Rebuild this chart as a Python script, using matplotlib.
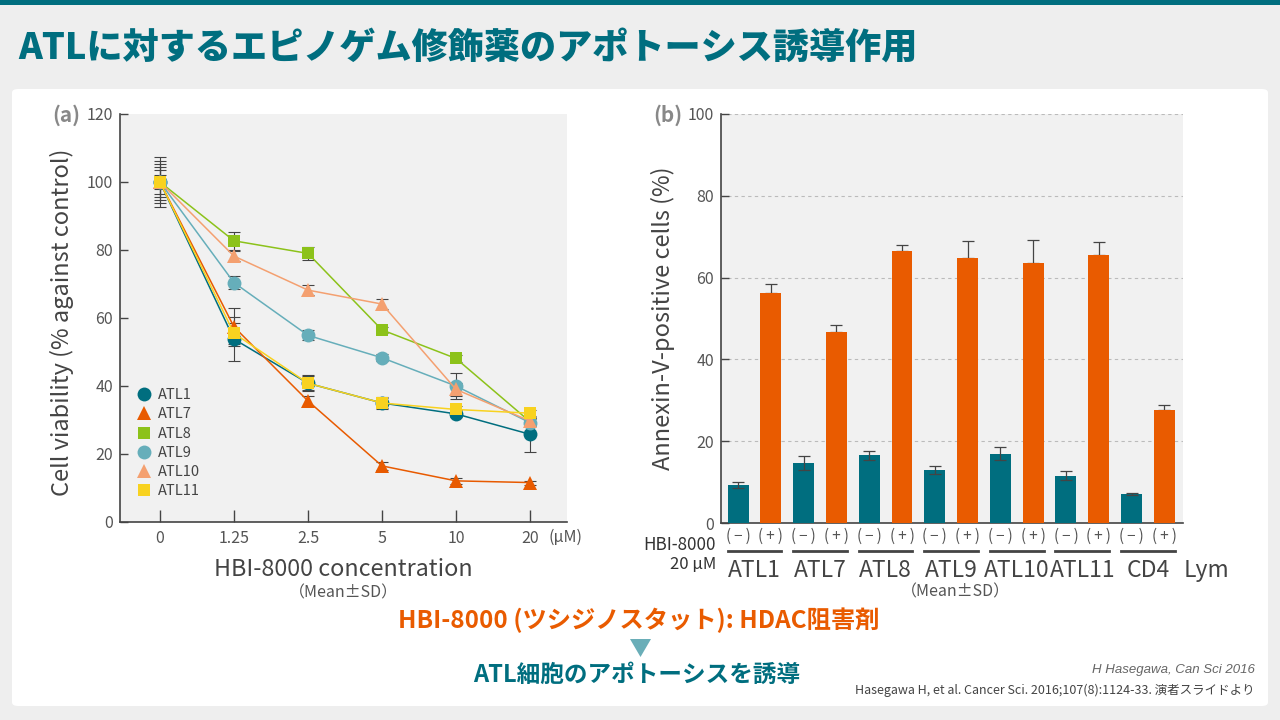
import matplotlib
matplotlib.use("Agg")
import matplotlib.pyplot as plt
import matplotlib.transforms as mtransforms
from matplotlib.patches import FancyBboxPatch, Polygon, Rectangle
from matplotlib.lines import Line2D
import numpy as np

plt.rcParams['font.family'] = ['Noto Sans CJK JP', 'DejaVu Sans']

# (a) 細胞生存率データ
conc_labels = ['0', '1.25', '2.5', '5', '10', '20']
cell_lines = ['ATL1', 'ATL7', 'ATL8', 'ATL9', 'ATL10', 'ATL11']
viab_atl1 = [100, 53.8, 40.8, 35.0, 31.8, 25.8]
viab_atl7 = [100, 57.4, 35.6, 16.5, 12.1, 11.6]
viab_atl8 = [100, 82.7, 79.0, 56.5, 48.1, 29.5]
viab_atl9 = [100, 70.4, 54.9, 48.3, 40.0, 29.2]
viab_atl10 = [100, 78.2, 68.2, 64.1, 39.0, 29.7]
viab_atl11 = [100, 55.5, 40.8, 35.0, 33.1, 32.0]
err_atl1 = [7.4, 6.5, 2.0, 1.5, 1.0, 5.3]
err_atl7 = [4.5, 5.5, 1.5, 1.2, 0.8, 0.6]
err_atl8 = [3.5, 2.7, 2.0, 1.0, 1.0, 1.0]
err_atl9 = [6.2, 2.0, 1.5, 1.0, 3.8, 1.0]
err_atl10 = [5.2, 1.5, 1.5, 1.4, 2.0, 1.0]
err_atl11 = [2.0, 3.0, 2.4, 1.7, 1.0, 1.0]

# (b) Annexin-V陽性細胞データ
groups = ['ATL1', 'ATL7', 'ATL8', 'ATL9', 'ATL10', 'ATL11', 'CD4']
annexin_minus = [9.3, 14.7, 16.6, 13.0, 16.9, 11.5, 7.1]
minus_err = [0.7, 1.8, 1.1, 0.9, 1.6, 1.1, 0.2]
annexin_plus = [56.2, 46.7, 66.5, 64.8, 63.6, 65.5, 27.6]
plus_err = [2.2, 1.7, 1.5, 4.2, 5.6, 3.2, 1.3]

W, H = 1280, 720
TEAL = '#006E7F'
ORANGE = '#E95B00'
GRAY_TXT = '#555555'
AX_BG = '#F1F1F1'


def fx(x):
    return x / W


def fy(y):
    return 1 - y / H


fig = plt.figure(figsize=(12.8, 7.2), dpi=100)
fig.patch.set_facecolor('#EEEEEE')

# 上部の帯と白いパネル(軸より後ろ)
fig.add_artist(Rectangle((0, fy(5)), 1, 5 / H, transform=fig.transFigure,
                         facecolor=TEAL, edgecolor='none', zorder=-10))
fig.add_artist(FancyBboxPatch((fx(12), fy(706)), (1268 - 12) / W, (706 - 89) / H,
                              boxstyle='round,pad=0,rounding_size=0.005',
                              transform=fig.transFigure, facecolor='white',
                              edgecolor='none', zorder=-10))

fig.text(fx(18), fy(48), 'ATLに対するエピノゲム修飾薬のアポトーシス誘導作用',
         color=TEAL, fontsize=26, fontweight='black', ha='left', va='center')

# ---- (a) 折れ線グラフ ----
ax1 = fig.add_axes([fx(120), fy(522), (567 - 120) / W, (522 - 114) / H])
ax1.set_facecolor(AX_BG)
x = np.arange(len(conc_labels))
series = [viab_atl1, viab_atl7, viab_atl8, viab_atl9, viab_atl10, viab_atl11]
errs = [err_atl1, err_atl7, err_atl8, err_atl9, err_atl10, err_atl11]
colors = ['#006E7F', '#E85A00', '#8CC21A', '#66AEBA', '#F4A070', '#F8D220']
markers = ['o', '^', 's', 'o', '^', 's']
msizes = [10, 10, 9, 10, 10, 9]

for i in range(len(cell_lines)):
    ax1.errorbar(x, series[i], yerr=errs[i], fmt='none', ecolor='#444444',
                 elinewidth=0.8, capsize=4.5, capthick=0.8, zorder=2)
for i in range(len(cell_lines)):
    ax1.plot(x, series[i], color=colors[i], lw=1.1, marker=markers[i],
             markersize=msizes[i], markeredgewidth=0, zorder=3 + i)

ax1.set_xlim(-0.54, 5.5)
ax1.set_ylim(0, 120)
ax1.set_xticks(x)
ax1.set_xticklabels(conc_labels)
ax1.set_yticks(range(0, 121, 20))
ax1.tick_params(axis='x', direction='in', length=9, width=1, color='#444444',
                labelsize=11.5, labelcolor=GRAY_TXT, pad=6)
ax1.tick_params(axis='y', direction='in', length=5.5, width=1, color='#444444',
                labelsize=11.5, labelcolor=GRAY_TXT, pad=5)
for s in ['top', 'right']:
    ax1.spines[s].set_visible(False)
for s in ['left', 'bottom']:
    ax1.spines[s].set_color('#444444')
    ax1.spines[s].set_linewidth(1.2)

handles = [Line2D([], [], color=colors[i], marker=markers[i], linestyle='none',
                  markersize=msizes[i], markeredgewidth=0) for i in range(len(cell_lines))]
ax1.legend(handles, cell_lines, loc='lower left', bbox_to_anchor=(0.02, 0.04),
           frameon=False, fontsize=10.5, labelcolor='#444444', handlelength=1.0,
           handletextpad=0.5, labelspacing=0.36, borderpad=0)

fig.text(fx(66), fy(115), '(a)', color='#888888', fontsize=15, fontweight='bold',
         ha='center', va='center')
fig.text(fx(62), fy(322), 'Cell viability (% against control)', rotation=90,
         color='#444444', fontsize=17, ha='center', va='center')
fig.text(fx(566), fy(537), '(μM)', color=GRAY_TXT, fontsize=11.5, ha='center', va='center')
fig.text(fx(343), fy(569), 'HBI-8000 concentration', color='#444444', fontsize=16.8,
         ha='center', va='center')
fig.text(fx(343), fy(593), '（Mean±SD）', color=GRAY_TXT, fontsize=11.5,
         ha='center', va='center')

# ---- (b) 棒グラフ ----
ax2 = fig.add_axes([fx(721), fy(523), (1183 - 721) / W, (523 - 114) / H])
ax2.set_facecolor(AX_BG)
pos_minus = np.arange(len(groups)) * 2
pos_plus = pos_minus + 1
bw = 0.64
ax2.bar(pos_plus, annexin_plus, width=bw, color=ORANGE, zorder=3)
ax2.errorbar(pos_plus, annexin_plus, yerr=[np.zeros(len(groups)), plus_err], fmt='none',
             ecolor='#444444', elinewidth=0.9, capsize=4.5, capthick=0.9, zorder=2)
ax2.bar(pos_minus, annexin_minus, width=bw, color=TEAL, zorder=3)
ax2.errorbar(pos_minus, annexin_minus, yerr=minus_err, fmt='none',
             ecolor='#444444', elinewidth=0.9, capsize=4.5, capthick=0.9, zorder=4)

ax2.set_xlim(-0.52, 13.57)
ax2.set_ylim(0, 100)
ax2.set_yticks(range(0, 101, 20))
ax2.set_xticks([])
ax2.yaxis.grid(True, linestyle=(0, (3, 3)), color='#BBBBBB', linewidth=0.8, zorder=0)
ax2.set_axisbelow(True)
ax2.tick_params(axis='y', direction='in', length=5.5, width=1, color='#444444',
                labelsize=11.5, labelcolor=GRAY_TXT, pad=5)
for s in ['top', 'right']:
    ax2.spines[s].set_visible(False)
for s in ['left', 'bottom']:
    ax2.spines[s].set_color('#444444')
    ax2.spines[s].set_linewidth(1.2)

trans = mtransforms.blended_transform_factory(ax2.transData, ax2.transAxes)
for i, g in enumerate(groups):
    ax2.text(pos_minus[i], -0.032, '(\u2009−\u2009)', transform=trans, ha='center',
             va='center', fontsize=11, color=GRAY_TXT)
    ax2.text(pos_plus[i], -0.032, '(\u2009+\u2009)', transform=trans, ha='center',
             va='center', fontsize=11, color=GRAY_TXT)
    ax2.add_line(Line2D([pos_minus[i] - bw / 2, pos_plus[i] + bw / 2], [-0.069, -0.069],
                        transform=trans, color='#444444', lw=2, clip_on=False))
    ax2.text((pos_minus[i] + pos_plus[i]) / 2, -0.115, g, transform=trans,
             ha='center', va='center', fontsize=16.5, color='#444444')
ax2.text(pos_plus[-1] + 0.6, -0.115, 'Lym', transform=trans, ha='left', va='center',
         fontsize=16.5, color='#444444')

fig.text(fx(668), fy(115), '(b)', color='#888888', fontsize=15, fontweight='bold',
         ha='center', va='center')
fig.text(fx(663), fy(318), 'Annexin-V-positive cells (%)', rotation=90,
         color='#444444', fontsize=17, ha='center', va='center')
fig.text(fx(716), fy(545), 'HBI-8000', color='#333333', fontsize=12.3, ha='right', va='center')
fig.text(fx(716), fy(564), '20 μM', color='#333333', fontsize=12, ha='right', va='center')
fig.text(fx(955), fy(592), '（Mean±SD）', color=GRAY_TXT, fontsize=11.5,
         ha='center', va='center')

# ---- 下部の説明 ----
fig.text(fx(639), fy(620), 'HBI-8000 (ツシジノスタット): HDAC阻害剤', color=ORANGE,
         fontsize=17.5, fontweight='bold', ha='center', va='center')
fig.add_artist(Polygon([[fx(630), fy(639)], [fx(651), fy(639)], [fx(640.5), fy(657)]],
                       closed=True, transform=fig.transFigure, facecolor='#6AAEB8',
                       edgecolor='none'))
fig.text(fx(637), fy(675), 'ATL細胞のアポトーシスを誘導', color=TEAL,
         fontsize=17, fontweight='bold', ha='center', va='center')
fig.text(fx(1255), fy(670), 'H Hasegawa, Can Sci 2016', color='#666666', fontsize=9.5,
         style='italic', family=['Liberation Sans', 'DejaVu Sans'], ha='right', va='center')
fig.text(fx(1255), fy(690), 'Hasegawa H, et al. Cancer Sci. 2016;107(8):1124-33. 演者スライドより',
         color='#444444', fontsize=9, ha='right', va='center')

fig.savefig('out.png', dpi=100, facecolor=fig.get_facecolor())
